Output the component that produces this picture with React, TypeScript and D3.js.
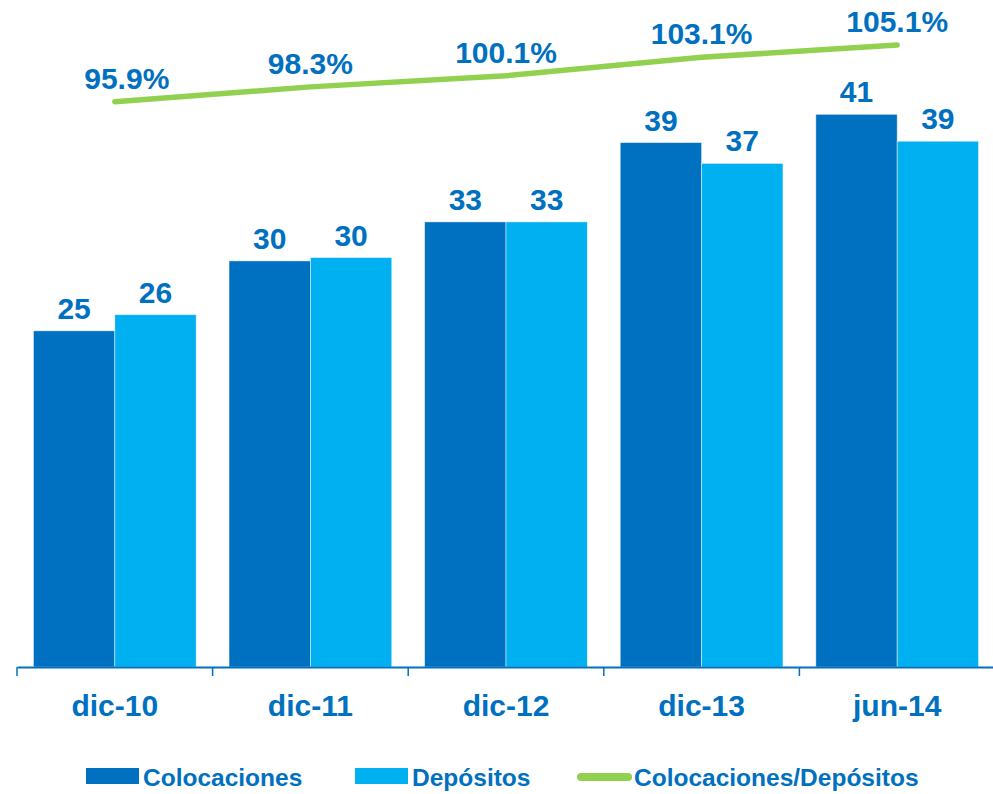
import { useEffect, useRef } from 'react';
import * as d3 from 'd3';

// ── Data ─────────────────────────────────────────────────────────────────────
const CATEGORIES = ['dic-10', 'dic-11', 'dic-12', 'dic-13', 'jun-14'];
const COLOCACIONES = [25.0, 30.2, 33.1, 39.0, 41.1];
const DEPOSITOS = [26.2, 30.45, 33.1, 37.45, 39.1];
const RATIO = [95.9, 98.3, 100.1, 103.1, 105.1];

const SERIES = [
  { key: 'Colocaciones', values: COLOCACIONES, color: '#0070C0' },
  { key: 'Depósitos', values: DEPOSITOS, color: '#00B0F0' },
];
const LINE_NAME = 'Colocaciones/Depósitos';
const LINE_COLOR = '#92D050';
const TEXT_COLOR = '#0070C0';
const FONT = '"Liberation Sans", Arial, sans-serif';

export default function App() {
  const svgRef = useRef<SVGSVGElement | null>(null);

  const W = 993, H = 794;

  useEffect(() => {
    if (!svgRef.current) return;
    const svg = d3.select(svgRef.current);
    svg.selectAll('*').remove();

    const baseY = 667;
    const x0 = d3.scaleBand<string>().domain(CATEGORIES).range([17, 995]);
    const bw = x0.bandwidth();
    const x1 = d3.scaleBand<string>().domain(SERIES.map(s => s.key)).range([bw * 0.084, bw * 0.916]);
    const y = d3.scaleLinear().domain([0, 49.6]).range([baseY, 0]);
    const yR = d3.scaleLinear().domain([80, 110]).range([199.6, 14.8]);

    // Bars
    SERIES.forEach(s => {
      const g = svg.append('g');
      g.selectAll('rect').data(s.values).enter().append('rect')
        .attr('x', (_d, i) => (x0(CATEGORIES[i]) ?? 0) + (x1(s.key) ?? 0))
        .attr('y', d => y(d))
        .attr('width', x1.bandwidth())
        .attr('height', d => baseY - y(d))
        .attr('fill', s.color)
        .attr('stroke', 'rgba(255,255,255,0.6)').attr('stroke-width', 0.8);
      g.selectAll('text').data(s.values).enter().append('text')
        .attr('x', (_d, i) => (x0(CATEGORIES[i]) ?? 0) + (x1(s.key) ?? 0) + x1.bandwidth() / 2)
        .attr('y', d => y(d) - 12)
        .attr('text-anchor', 'middle')
        .style('font-family', FONT).style('font-weight', 'bold').style('font-size', '30px')
        .style('fill', TEXT_COLOR)
        .text(d => d3.format('.0f')(d));
    });

    // Axis
    svg.append('g').attr('transform', `translate(0,${baseY})`)
      .call(d3.axisBottom(x0).tickValues([]).tickSizeOuter(0))
      .call(ax => ax.select('.domain').style('stroke', TEXT_COLOR).attr('stroke-width', 2));
    const edges = CATEGORIES.map(c => x0(c) ?? 0).concat([(x0(CATEGORIES[CATEGORIES.length - 1]) ?? 0) + bw]);
    svg.append('g').selectAll('line').data(edges).enter().append('line')
      .attr('x1', d => d).attr('x2', d => d)
      .attr('y1', baseY).attr('y2', baseY + 9)
      .style('stroke', TEXT_COLOR).attr('stroke-width', 1.5);
    svg.append('g').selectAll('text').data(CATEGORIES).enter().append('text')
      .attr('x', d => (x0(d) ?? 0) + bw / 2)
      .attr('y', 716)
      .attr('text-anchor', 'middle')
      .style('font-family', FONT).style('font-weight', 'bold').style('font-size', '30px')
      .style('fill', TEXT_COLOR)
      .text(d => d);

    // Ratio line
    const line = d3.line<number>()
      .x((_d, i) => (x0(CATEGORIES[i]) ?? 0) + bw / 2)
      .y(d => yR(d));
    svg.append('path').datum(RATIO)
      .attr('d', line)
      .attr('fill', 'none')
      .style('stroke', LINE_COLOR).attr('stroke-width', 5.5)
      .attr('stroke-linecap', 'round').attr('stroke-linejoin', 'round');
    const nudge = [12, 0, 0, 0, 0];
    svg.append('g').selectAll('text').data(RATIO).enter().append('text')
      .attr('x', (_d, i) => (x0(CATEGORIES[i]) ?? 0) + bw / 2 + nudge[i])
      .attr('y', d => yR(d) - 13)
      .attr('text-anchor', 'middle')
      .style('font-family', FONT).style('font-weight', 'bold').style('font-size', '30px')
      .style('fill', TEXT_COLOR)
      .text(d => `${d3.format('.1f')(d)}%`);

    // Legend
    const lg = svg.append('g').style('font-family', FONT).style('font-weight', 'bold')
      .style('font-size', '24.5px').style('fill', TEXT_COLOR);
    const items = [
      { name: SERIES[0].key, color: SERIES[0].color, x: 86, type: 'rect' },
      { name: SERIES[1].key, color: SERIES[1].color, x: 355, type: 'rect' },
      { name: LINE_NAME, color: LINE_COLOR, x: 577, type: 'line' },
    ];
    items.forEach(it => {
      if (it.type === 'rect') {
        lg.append('rect').attr('x', it.x).attr('y', 768).attr('width', 53).attr('height', 16).attr('fill', it.color);
      } else {
        lg.append('line').attr('x1', it.x + 4).attr('x2', it.x + 51).attr('y1', 777).attr('y2', 777)
          .style('stroke', it.color).attr('stroke-width', 8).attr('stroke-linecap', 'round');
      }
      lg.append('text').attr('x', it.x + 57).attr('y', 786).text(it.name);
    });
  }, []);

  return (
    <svg ref={svgRef} width={W} height={H} viewBox={`0 0 ${W} ${H}`}
      style={{ position: 'absolute', left: 0, top: 0, display: 'block', background: '#fff' }} />
  );
}
